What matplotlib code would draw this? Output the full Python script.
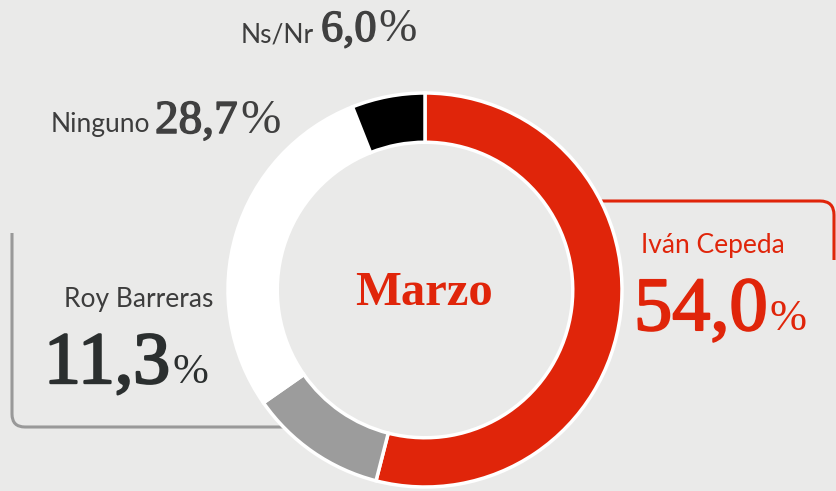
import numpy as np
import matplotlib.pyplot as plt
import matplotlib.patheffects as pe
from matplotlib.path import Path
from matplotlib.patches import PathPatch

# data
labels = ["Iván Cepeda", "Roy Barreras", "Ninguno", "Ns/Nr"]
values = [54.0, 11.3, 28.7, 6.0]
value_text = ["54,0", "11,3", "28,7", "6,0"]
colors = ["#e0250a", "#9c9c9c", "#ffffff", "#000000"]
center_label = "Marzo"

W, H = 836, 491
RED = "#e0250a"
DARK = "#3d3d3d"
SANS = ["Lato", "DejaVu Sans"]
SERIF = ["Liberation Serif", "DejaVu Serif"]


def Y(y):
    # pixel row (from top) -> data y
    return H - y


def rounded_path(points, r):
    # polyline with one rounded corner (start, corner, end)
    p0, c, p1 = [np.array(p, float) for p in points]
    d0 = (c - p0) / np.linalg.norm(c - p0)
    d1 = (p1 - c) / np.linalg.norm(p1 - c)
    a = c - d0 * r
    b = c + d1 * r
    verts = [p0, a, c, b, p1]
    codes = [Path.MOVETO, Path.LINETO, Path.CURVE3, Path.CURVE3, Path.LINETO]
    return Path(verts, codes)


fig = plt.figure(figsize=(W / 100, H / 100), dpi=100)
fig.patch.set_facecolor("#eaeae9")
ax = fig.add_axes([0, 0, 1, 1])
ax.set_facecolor("#eaeae9")

cx, cy, R = 425, 290, 197
ax.pie(values, colors=colors, startangle=90, counterclock=False,
       radius=R, center=(cx, Y(cy)),
       wedgeprops=dict(width=R * 0.25, edgecolor="white", linewidth=2.5, zorder=3))

ax.set_xlim(0, W)
ax.set_ylim(0, H)
ax.set_aspect("auto")
ax.axis("off")

# connector lines
red_path = rounded_path([(570, Y(201)), (834, Y(201)), (834, Y(260))], 14)
ax.add_patch(PathPatch(red_path, fill=False, edgecolor=RED, lw=2.2, zorder=1,
                       capstyle="butt"))
gray_path = rounded_path([(12, Y(233)), (12, Y(427)), (300, Y(427))], 13)
ax.add_patch(PathPatch(gray_path, fill=False, edgecolor="#999999", lw=2.2, zorder=1,
                       capstyle="butt"))

fig.canvas.draw()
renderer = fig.canvas.get_renderer()


def number(x, y, num, size, pct_size, color, thick):
    t = ax.text(x, Y(y), num, fontsize=size, family=SERIF, color=color,
                ha="left", va="baseline", zorder=5,
                path_effects=[pe.withStroke(linewidth=thick, foreground=color)])
    bb = t.get_window_extent(renderer)
    xr = ax.transData.inverted().transform((bb.x1, bb.y0))[0]
    ax.text(xr + 2, Y(y), "%", fontsize=pct_size, family=SERIF, color=color,
            ha="left", va="baseline", zorder=5)


# Iván Cepeda
ax.text(641, Y(253), labels[0], fontsize=19, family=SANS, color=RED,
        ha="left", va="baseline")
number(634, 330, value_text[0], 55, 32, RED, 1.5)

# Roy Barreras
ax.text(213, Y(307), labels[1], fontsize=19, family=SANS, color=DARK,
        ha="right", va="baseline")
number(44, 383, value_text[1], 53, 31, "#2b2f2f", 1.7)

# Ninguno
ax.text(51, Y(132), labels[2], fontsize=19, family=SANS, color=DARK,
        ha="left", va="baseline")
number(155, 133, value_text[2], 34, 35, "#404040", 1.1)

# Ns/Nr
ax.text(241, Y(42), labels[3], fontsize=19, family=SANS, color=DARK,
        ha="left", va="baseline")
number(321, 41, value_text[3], 32, 33, "#404040", 1.0)

# center label
ax.text(cx - 1, Y(305), center_label, fontsize=35, family=SERIF, weight="bold",
        color=RED, ha="center", va="baseline")

fig.savefig("out.png", dpi=100, facecolor=fig.get_facecolor())
